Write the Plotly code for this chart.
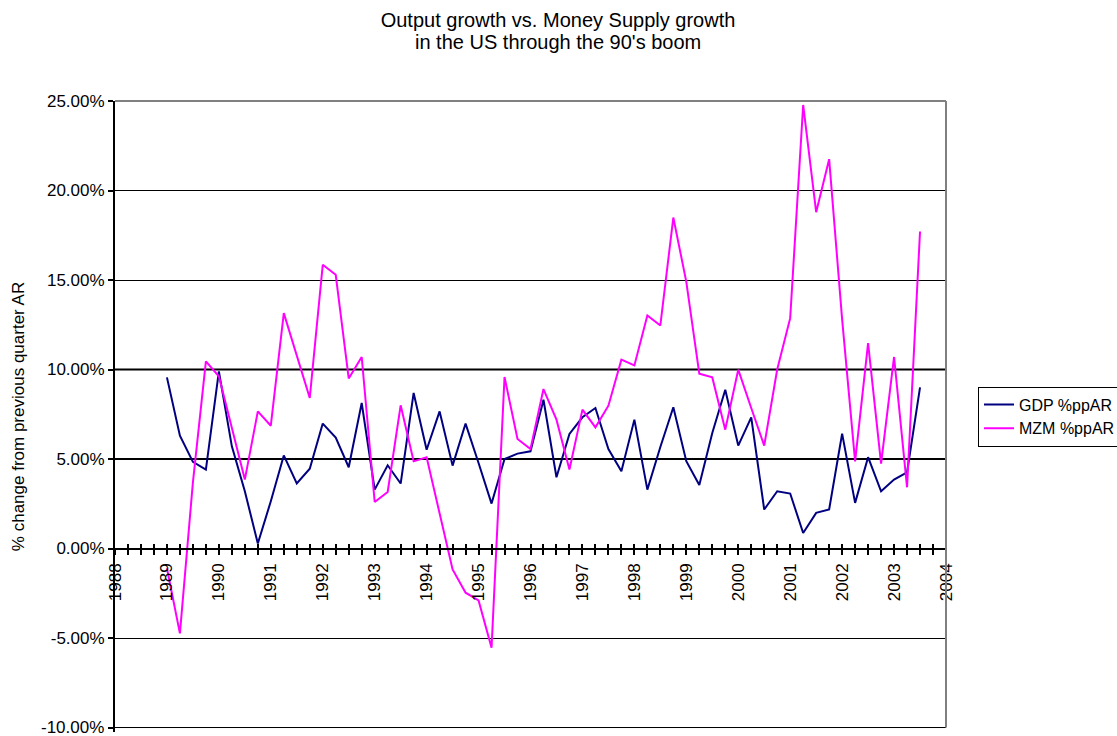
import plotly.graph_objects as go

# Quarterly observations, 1989Q1 .. 2003Q3 (x position in years)
quarters = [1989 + q / 4 for q in range(59)]

gdp = [9.56, 6.30, 4.84, 4.41,
       9.90, 5.71, 3.20, 0.28,
       2.64, 5.20, 3.64, 4.46,
       6.98, 6.20, 4.54, 8.13,
       3.29, 4.65, 3.63, 8.69,
       5.52, 7.66, 4.63, 6.98,
       4.78, 2.51, 5.00, 5.30,
       5.43, 8.31, 3.98, 6.40,
       7.33, 7.85, 5.56, 4.32,
       7.20, 3.29, 5.67, 7.89,
       4.88, 3.55, 6.45, 8.87,
       5.75, 7.33, 2.18, 3.20,
       3.07, 0.87, 1.99, 2.18,
       6.42, 2.55, 5.10, 3.20,
       3.85, 4.26, 9.00]

mzm = [-1.10, -4.74, 3.70, 10.45,
       9.62, 6.70, 3.85, 7.66,
       6.86, 13.15, 10.80, 8.41,
       15.85, 15.29, 9.50, 10.70,
       2.60, 3.16, 8.00, 4.87,
       5.10, 1.90, -1.17, -2.47,
       -2.90, -5.54, 9.58, 6.12,
       5.56, 8.91, 7.20, 4.41,
       7.76, 6.77, 7.98, 10.55,
       10.23, 13.02, 12.46, 18.49,
       14.90, 9.77, 9.56, 6.64,
       9.99, 7.85, 5.75, 10.00,
       12.87, 24.78, 18.79, 21.75,
       12.80, 4.87, 11.48, 4.74,
       10.70, 3.42, 17.71]

series_names = ["GDP %ppAR", "MZM %ppAR"]
title_lines = ["Output growth vs. Money Supply growth", "in the US through the 90's boom"]
y_title = "% change from previous quarter AR"
x_range = [1988, 2004]
y_range = [-10, 25]
y_ticks = [-10, -5, 0, 5, 10, 15, 20, 25]
y_ticktext = [f"{v:.2f}%" for v in y_ticks]
bold_grid = [5, 10]

FONT = "Liberation Sans, Arial, sans-serif"

W, H = 1117, 736
ML, MR, MT = 115, 171, 101
px_per_unit = (728 - MT) / (y_range[1] - y_range[0])
pad = 0.25                      # small extension below -10
y_lo = y_range[0] - pad
MB = 8 - pad * px_per_unit

fig = go.Figure()
fig.add_trace(go.Scatter(x=quarters, y=gdp, mode="lines", name=series_names[0],
                         line=dict(color="#000080", width=2)))
fig.add_trace(go.Scatter(x=quarters, y=mzm, mode="lines", name=series_names[1],
                         line=dict(color="#FF00FF", width=2)))
# invisible helper trace so the overlay axis (inside ticks) is drawn
fig.add_trace(go.Scatter(x=[x_range[0]], y=[0], xaxis="x2", mode="markers",
                         marker=dict(opacity=0), showlegend=False, hoverinfo="skip"))

zero_pos = (0 - y_lo) / (y_range[1] - y_lo)
plot_h = H - MT - MB
plot_w = W - ML - MR

annotations = [dict(text=title_lines[1], xref="paper", yref="paper",
                    x=(558 - ML) / plot_w, y=(H - MB - 42) / plot_h,
                    xanchor="center", yanchor="middle", showarrow=False,
                    font=dict(family=FONT, size=20, color="black"))]
# bottom tick label (plotly drops the one at the lower edge)
annotations.append(dict(text=y_ticktext[0], xref="paper", yref="y", x=0, y=y_ticks[0],
                        xanchor="right", yanchor="middle", xshift=-9, showarrow=False,
                        font=dict(family=FONT, size=17, color="black")))

fig.update_layout(
    width=W, height=H,
    paper_bgcolor="white", plot_bgcolor="white",
    margin=dict(l=ML, r=MR, t=MT, b=MB, autoexpand=False),
    font=dict(family=FONT, size=17, color="black"),
    title=dict(text=title_lines[0], x=558 / W, xref="container", xanchor="center",
               y=1 - 20 / H, yanchor="middle", yref="container",
               font=dict(family=FONT, size=20, color="black")),
    annotations=annotations,
    xaxis=dict(range=x_range, anchor="free", position=zero_pos,
               showgrid=False, zeroline=False,
               showline=True, linecolor="black", linewidth=2,
               tickmode="linear", tick0=1988, dtick=1,
               ticks="outside", ticklen=5, tickwidth=2, tickcolor="black",
               minor=dict(ticks="outside", dtick=0.25, tick0=1988, ticklen=5,
                          tickwidth=2, tickcolor="black", showgrid=False),
               tickangle=-90, tickfont=dict(family=FONT, size=17),
               ticklabelstandoff=2),
    xaxis2=dict(range=x_range, overlaying="x", anchor="free", position=zero_pos,
                showgrid=False, zeroline=False, showline=False,
                tickmode="linear", tick0=1988, dtick=1,
                ticks="inside", ticklen=5, tickwidth=2, tickcolor="black",
                minor=dict(ticks="inside", dtick=0.25, tick0=1988, ticklen=5,
                           tickwidth=2, tickcolor="black", showgrid=False),
                showticklabels=False),
    yaxis=dict(range=[y_lo, y_range[1]], tickmode="array", tickvals=y_ticks,
               ticktext=y_ticktext,
               showgrid=True, gridcolor="black", gridwidth=1, zeroline=False,
               showline=True, linecolor="black", linewidth=2,
               ticks="outside", ticklen=5, tickwidth=2, tickcolor="black",
               tickfont=dict(family=FONT, size=17),
               title=dict(text=y_title, font=dict(family=FONT, size=17), standoff=18)),
    legend=dict(x=(978 - ML) / plot_w, xanchor="left", y=0.5, yanchor="middle",
                bordercolor="black", borderwidth=1, bgcolor="white",
                font=dict(family=FONT, size=16), itemwidth=30,
                tracegroupgap=0),
    showlegend=True,
)

shapes = []
# bottom grid line at -10 and the heavier 5% / 10% lines
shapes.append(dict(type="line", xref="paper", yref="y", x0=0, x1=1,
                   y0=y_range[0], y1=y_range[0], line=dict(color="black", width=1),
                   layer="below"))
for v in bold_grid:
    shapes.append(dict(type="line", xref="paper", yref="y", x0=0, x1=1, y0=v, y1=v,
                       line=dict(color="black", width=2), layer="below"))
shapes.append(dict(type="line", xref="paper", yref="paper", x0=0, x1=1, y0=1, y1=1,
                   line=dict(color="#808080", width=2)))
shapes.append(dict(type="line", xref="paper", yref="y", x0=1, x1=1, y0=y_range[0], y1=y_range[1],
                   line=dict(color="#808080", width=2)))
fig.update_layout(shapes=shapes)

fig.write_html(
    "out.html",
    config={"displayModeBar": False},
    post_script="document.body.style.margin='0';"
                "document.documentElement.style.overflow='hidden';"
                "document.body.style.overflow='hidden';",
)
